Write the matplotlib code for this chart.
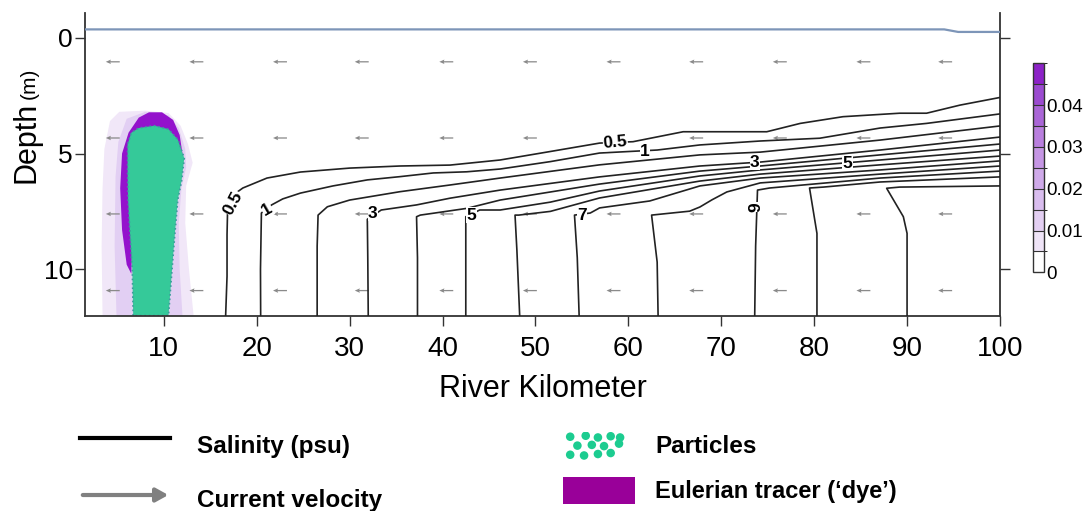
import numpy as np
import matplotlib.pyplot as plt
from matplotlib.colors import ListedColormap, BoundaryNorm
from matplotlib.colorbar import ColorbarBase
from matplotlib.patches import Polygon, Rectangle, FancyArrowPatch
from matplotlib.lines import Line2D

plt.rcParams['font.family'] = ['Liberation Sans', 'DejaVu Sans']
NARROW = ['Liberation Sans Narrow', 'Liberation Sans', 'DejaVu Sans']

# salinity contours (psu), each traced as river km / depth (m)
sal_levels = [0.5, 1, 2, 3, 4, 5, 6, 7, 8, 9, 10, 11]
sal_km = [
    [16.65, 16.8, 16.8, 16.85, 17.1, 17.6, 18.5, 21.1, 24.7, 30.0, 35.4, 40.8, 46.2,
     51.5, 56.9, 60.5, 65.9, 74.9, 78.5, 83.1, 89.2, 92.1, 95.7, 100],
    [20.42, 20.4, 20.5, 21.6, 22.8, 24.7, 28.2, 31.9, 35.4, 39.0, 42.6, 46.2, 51.6,
     56.9, 63.1, 67.7, 74.2, 80.6, 87.1, 92.1, 100],
    [26.5, 26.5, 26.6, 27.6, 30.0, 35.4, 40.8, 46.2, 56.9, 67.7, 74.2, 87.1, 100],
    [32.0, 31.95, 31.9, 33.4, 37.2, 40.8, 46.2, 56.9, 67.7, 74.2, 87.1, 100],
    [37.3, 37.3, 37.2, 37.6, 39.0, 42.6, 46.2, 56.9, 67.7, 74.2, 87.1, 100],
    [42.5, 42.5, 42.5, 44.0, 46.2, 51.6, 56.9, 67.7, 74.2, 87.1, 100],
    [48.3, 48.0, 47.8, 48.2, 51.6, 56.9, 67.7, 74.2, 87.1, 100],
    [54.7, 54.5, 54.2, 55.9, 56.9, 62.3, 67.7, 74.2, 87.1, 100],
    [63.2, 63.1, 62.5, 66.6, 67.7, 69.0, 70.6, 74.2, 87.1, 100],
    [73.6, 73.7, 73.9, 75.2, 87.1, 100],
    [80.3, 80.3, 79.5, 81.0, 87.1, 100],
    [90.0, 90.0, 89.6, 87.8, 89.2, 100],
]
sal_depth = [
    [12.0, 10.3, 8.5, 7.6, 7.1, 6.75, 6.49, 6.06, 5.80, 5.63, 5.54, 5.50, 5.28,
     4.92, 4.55, 4.49, 4.06, 4.06, 3.70, 3.41, 3.26, 3.26, 2.91, 2.58],
    [12.0, 10.0, 7.57, 7.22, 6.96, 6.71, 6.40, 6.14, 6.00, 5.84, 5.79, 5.67, 5.35,
     4.98, 4.85, 4.63, 4.46, 4.34, 3.90, 3.70, 3.29],
    [12.0, 9.0, 7.66, 7.30, 7.01, 6.65, 6.36, 6.06, 5.49, 5.06, 4.94, 4.42, 3.81],
    [12.0, 9.5, 7.84, 7.44, 7.22, 6.93, 6.58, 6.01, 5.54, 5.37, 4.85, 4.29],
    [12.0, 9.5, 7.73, 7.66, 7.58, 7.37, 7.01, 6.32, 5.76, 5.54, 5.06, 4.59],
    [12.0, 9.5, 7.73, 7.44, 7.44, 7.10, 6.62, 5.97, 5.71, 5.28, 4.85],
    [12.0, 9.17, 7.66, 7.66, 7.50, 6.92, 6.19, 5.89, 5.49, 5.11],
    [12.0, 9.5, 7.66, 7.57, 7.35, 7.05, 6.40, 6.06, 5.71, 5.32],
    [12.0, 9.69, 7.66, 7.49, 7.31, 7.0, 6.66, 6.27, 5.89, 5.54],
    [12.0, 9.0, 6.58, 6.49, 6.06, 5.76],
    [12.0, 8.45, 6.49, 6.45, 6.23, 6.01],
    [12.0, 8.45, 7.73, 6.50, 6.45, 6.40],
]

# contour labels
lab_text = ['0.5', '1', '3', '5', '7', '9', '0.5', '1', '3', '5']
lab_km = [17.5, 21.1, 32.5, 43.1, 55.0, 73.7, 58.6, 61.8, 73.6, 83.6]
lab_depth = [7.15, 7.41, 7.58, 7.66, 7.66, 7.30, 4.53, 4.90, 5.38, 5.42]
lab_rot = [62, 30, 0, 0, 0, 90, 5, 0, 0, 0]

# water surface
surf_km = [1.56, 94.0, 95.5, 100]
surf_depth = [-0.36, -0.36, -0.25, -0.25]

# current velocity arrows (km per arrow length, negative = seaward)
arrow_km = [4.5, 13.5, 22.5, 31.3, 40.4, 49.4, 58.4, 67.3, 76.3, 85.3, 94.1]
arrow_depth = [1.04, 4.33, 7.61, 10.92]
arrow_u = [
    [-1.5, -1.5, -1.5, -1.5, -1.5, -1.5, -1.5, -1.5, -1.5, -1.5, -1.5],
    [-1.5, -1.5, -1.5, -1.5, -1.5, -1.5, -1.5, -1.5, -1.5, -1.5, -1.5],
    [-1.5, -1.5, -1.5, -1.5, -1.5, -1.5, -1.5, -1.5, -1.5, -1.5, -1.5],
    [-1.5, -1.5, -1.5, -1.5, -1.5, -1.5, -1.5, -1.5, -1.5, -1.5, -1.5],
]

# dye plume outlines (km, depth)
halo_km = [3.4, 3.3, 3.4, 3.6, 4.2, 5.2, 8.0, 10.5, 11.8, 12.6, 13.1, 12.4, 12.3, 12.7, 13.2]
halo_depth = [12.0, 9.0, 6.5, 4.8, 3.6, 3.2, 3.15, 3.25, 3.8, 4.6, 5.4, 6.4, 8.0, 10.0, 12.0]
mid_km = [4.9, 4.7, 4.8, 5.1, 6.0, 8.0, 10.5, 11.6, 12.3, 12.4, 11.9, 11.6, 11.7, 12.0]
mid_depth = [12.0, 9.0, 6.0, 4.5, 3.5, 3.2, 3.35, 3.9, 4.8, 5.6, 6.5, 8.0, 10.0, 12.0]
core_km = [6.0, 5.5, 5.3, 5.5, 6.2, 7.3, 8.4, 9.8, 11.0, 11.7, 12.0, 11.6, 10.0, 7.0, 6.6, 6.5]
core_depth = [9.8, 8.3, 6.5, 5.0, 4.1, 3.45, 3.22, 3.22, 3.55, 4.2, 5.0, 5.8, 6.0, 6.0, 9.0, 10.2]

# particle cloud outline (km, depth)
part_km = [6.7, 6.6, 6.35, 6.15, 6.1, 6.1, 6.5, 7.3, 9.0, 10.5, 11.5, 12.2, 11.9, 11.5, 11.2, 10.9, 10.5]
part_depth = [12.0, 10.0, 8.4, 7.0, 5.6, 4.6, 4.1, 3.9, 3.8, 3.95, 4.4, 5.2, 6.2, 7.0, 8.4, 9.9, 12.0]

# colour bar of tracer concentration
cb_bounds = [0, 0.005, 0.01, 0.015, 0.02, 0.025, 0.03, 0.035, 0.04, 0.045, 0.05]
cb_ticks = [0, 0.01, 0.02, 0.03, 0.04]
cb_labels = ['0', '0.01', '0.02', '0.03', '0.04']
cb_colors = ['#ffffff', '#efe4f7', '#e3cff2', '#d9bdee', '#cfaae9',
             '#c596e4', '#b97fde', '#aa66d7', '#9b4bd0', '#8c22c7']

x_ticks = [10, 20, 30, 40, 50, 60, 70, 80, 90, 100]
y_ticks = [0, 5, 10]

fig = plt.figure(figsize=(10.9, 5.11), dpi=100)
ax = fig.add_axes([0.0784, 0.3824, 0.839, 0.5918])

ax.add_patch(Polygon(np.column_stack([halo_km, halo_depth]), closed=True,
                     facecolor='#f1e7f8', edgecolor='none', zorder=1))
ax.add_patch(Polygon(np.column_stack([mid_km, mid_depth]), closed=True,
                     facecolor='#e2cff3', edgecolor='none', zorder=1.1))
ax.add_patch(Polygon(np.column_stack([core_km, core_depth]), closed=True,
                     facecolor='#9412cc', edgecolor='none', zorder=1.2))
ax.add_patch(Polygon(np.column_stack([part_km, part_depth]), closed=True,
                     facecolor='#35c999', edgecolor='#3d9c9c', lw=1.2, ls=':', zorder=1.3))

ax.plot(surf_km, surf_depth, color='#7d95b8', lw=1.6, zorder=3)

X, Y = np.meshgrid(arrow_km, arrow_depth)
ax.quiver(X, Y, np.array(arrow_u), np.zeros_like(X), angles='xy', scale_units='xy',
          scale=1, pivot='middle', color='#8a8a8a', width=0.0014,
          headwidth=3.5, headlength=4, headaxislength=3.5, zorder=2)

for km, dep in zip(sal_km, sal_depth):
    ax.plot(km, dep, color='#222222', lw=1.2, zorder=3)

for t, x, y, r in zip(lab_text, lab_km, lab_depth, lab_rot):
    ax.text(x, y, t, rotation=r, ha='center', va='center', fontsize=12.5,
            fontweight='bold', family=NARROW, zorder=4,
            bbox=dict(facecolor='white', edgecolor='none', pad=0.2))

ax.set_xlim(1.56, 100)
ax.set_ylim(12.0, -1.06)
ax.set_xticks(x_ticks)
ax.set_yticks(y_ticks)
ax.spines['top'].set_visible(False)
for s in ['left', 'right', 'bottom']:
    ax.spines[s].set_color('#333333')
    ax.spines[s].set_linewidth(1.3)
ax.tick_params(axis='x', direction='out', length=7, width=1, labelsize=20, pad=8,
               color='#333333')
ax.tick_params(axis='y', direction='out', length=7, width=1, labelsize=19, pad=2,
               right=True, color='#333333')
ax.set_xlabel('River Kilometer', fontsize=22, labelpad=8)

fig.text(0.0245, 0.721, 'Depth', rotation=90, fontsize=22, ha='center', va='center')
fig.text(0.027, 0.836, '(m)', rotation=90, fontsize=15, ha='center', va='center')

# colour bar
cax = fig.add_axes([0.9474, 0.4671, 0.0104, 0.409])
cb = ColorbarBase(cax, cmap=ListedColormap(cb_colors),
                  norm=BoundaryNorm(cb_bounds, len(cb_colors)),
                  boundaries=cb_bounds, ticks=cb_ticks, drawedges=True)
cb.outline.set_edgecolor('#333333')
cb.outline.set_linewidth(1.0)
cb.dividers.set_color('#333333')
cb.dividers.set_linewidth(0.8)
cax.set_yticklabels(cb_labels, family=NARROW)
cax.tick_params(length=0, pad=1.5, labelsize=13.5)

# key below the plot
fig.add_artist(Line2D([0.0734, 0.156], [0.143, 0.143], color='black', lw=3))
fig.text(0.1807, 0.127, 'Salinity (psu)', fontsize=17.5, fontweight='bold', va='center')
fig.add_artist(FancyArrowPatch((0.0734, 0.0313), (0.157, 0.0313), transform=fig.transFigure,
                               arrowstyle='-|>,head_length=0.45,head_width=0.25',
                               mutation_scale=16, color='#808080', lw=3))
fig.text(0.1807, 0.0215, 'Current velocity', fontsize=17.5, fontweight='bold', va='center')

kax = fig.add_axes([0.5165, 0.098, 0.058, 0.057])
kax.scatter([0.05, 0.33, 0.55, 0.78, 0.18, 0.44, 0.66, 0.93, 0.05, 0.30, 0.55, 0.78, 0.95],
            [0.88, 0.92, 0.85, 0.90, 0.52, 0.55, 0.50, 0.60, 0.15, 0.12, 0.18, 0.22, 0.85],
            s=38, color='#1ccc90', edgecolors='none')
kax.set_xlim(-0.08, 1.06)
kax.set_ylim(-0.1, 1.08)
kax.axis('off')
fig.text(0.601, 0.127, 'Particles', fontsize=17.5, fontweight='bold', va='center')

fig.add_artist(Rectangle((0.5165, 0.0137), 0.066, 0.0528, transform=fig.transFigure,
                         facecolor='#990099', edgecolor='none'))
fig.text(0.601, 0.039, 'Eulerian tracer (\u2018dye\u2019)', fontsize=17,
         fontweight='bold', va='center')

fig.savefig('out.png', dpi=100)
